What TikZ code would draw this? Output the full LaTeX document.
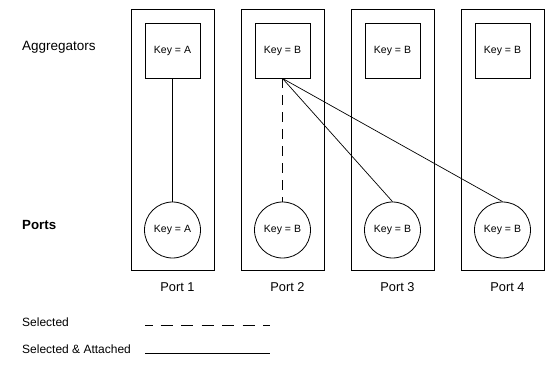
\documentclass[tikz,border=0pt]{standalone}
\usepackage{fontspec}
\setmainfont{Liberation Sans}
\begin{document}
\begin{tikzpicture}[x=1pt,y=-1pt,
  lane/.style={draw, line width=0.9pt, minimum width=83pt, minimum height=261pt, inner sep=0pt},
  aggbox/.style={draw, line width=0.9pt, minimum size=55pt, inner sep=0pt, font=\fontsize{10.5}{12}\selectfont},
  portnode/.style={draw, circle, line width=0.8pt, minimum size=56pt, inner sep=0pt, font=\fontsize{10.5}{12}\selectfont},
  rowlabel/.style={anchor=base west, inner sep=0pt, font=\fontsize{13.5}{16}\selectfont},
  portlabel/.style={anchor=base, inner sep=0pt, font=\fontsize{12.8}{15}\selectfont},
  legendlabel/.style={anchor=base west, inner sep=0pt, font=\fontsize{12}{14}\selectfont},
  attached/.style={line width=0.7pt},
  selected/.style={line width=0.8pt, dash pattern=on 10pt off 7pt},
  legendsel/.style={line width=0.9pt, dash pattern=on 8pt off 7.5pt on 12pt off 8.5pt on 12pt off 8.5pt on 12pt off 8.5pt on 12pt off 8.5pt on 12pt off 8.5pt on 12pt off 8.5pt}
]
\useasboundingbox (0,0) rectangle (557,366);

% row titles
\node[rowlabel] (aggtitle) at (22,51) {Aggregators};
\node[rowlabel, font=\fontsize{13.3}{16}\selectfont\bfseries] (porttitle) at (22,230) {Ports};

% one lane per port: aggregator on top, port below
\foreach \i/\k in {1/A,2/B,3/B,4/B}{
  \pgfmathsetmacro{\cx}{172.5+(\i-1)*110}
  \node[lane] (lane\i) at (\cx,139.5) {};
  \node[aggbox] (agg\i) at (\cx,50.5) {Key = \k};
  \node[portnode] (port\i) at (\cx,230) {Key = \k};
  \node[portlabel] (plabel\i) at (\cx+5,291.7) {Port \i};
}

% attachments
\draw[attached] (agg1.south) -- (port1.north);
\draw[selected] (agg2.south) -- (port2.north);
\draw[attached] (agg2.south) -- (port3.north);
\draw[attached] (agg2.south) -- (port4.north);

% legend
\node[legendlabel] (selkey) at (22,326) {Selected};
\node[legendlabel] (attkey) at (22,353) {Selected \& Attached};
\coordinate (selA) at (145,325.3);
\coordinate (selB) at (270,325.3);
\coordinate (attA) at (145,353.3);
\coordinate (attB) at (270,353.3);
\draw[legendsel] (selA) -- (selB);
\draw[line width=0.9pt] (attA) -- (attB);
\end{tikzpicture}
\end{document}
